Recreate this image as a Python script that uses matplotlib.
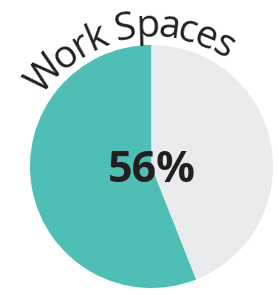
import matplotlib.pyplot as plt
import numpy as np

# chart data
title = "Work Spaces"
share = [56, 44]
colors = ["#4fbfb5", "#e9eaec"]
label = "56%"

W, H = 278, 295
fig = plt.figure(figsize=(W / 100, H / 100), dpi=100)
ax = fig.add_axes([0, 0, 1, 1])

cx, cy, r = 151.5, H - 166.5, 121.5
ax.pie(share, colors=colors, startangle=90, counterclock=True,
       center=(cx, cy), radius=r, frame=True,
       wedgeprops=dict(linewidth=0))
ax.set_xlim(0, W)
ax.set_ylim(0, H)
ax.set_aspect("equal")
ax.axis("off")

ax.text(cx, H - 171, label, ha="center", va="center",
        fontsize=31, fontweight="bold", family="Open Sans", color="#231f20")

# curved title along the top arc
txt_kw = dict(fontsize=28, family="Open Sans", color="#231f20")
fig.canvas.draw()
renderer = fig.canvas.get_renderer()
widths = []
for ch in title:
    t = ax.text(0, 0, ch if ch != " " else "a", **txt_kw)
    w = t.get_window_extent(renderer).width
    if ch == " ":
        w *= 0.5
    widths.append(w)
    t.remove()

rb = 130.0
mid_angle = np.radians(100.9)
span = 206.0  # arc length of title along baseline
scale = span / sum(widths)
widths = [w * scale for w in widths]
total = sum(widths)
pos = 0.0
for ch, w in zip(title, widths):
    arc = pos + w / 2 - total / 2
    ang = mid_angle - arc / rb
    x = cx + rb * np.cos(ang)
    y = cy + rb * np.sin(ang)
    ax.text(x, y, ch, ha="center", va="baseline", rotation=np.degrees(ang) - 90,
            rotation_mode="anchor", **txt_kw)
    pos += w

fig.savefig("out.png", dpi=100)
